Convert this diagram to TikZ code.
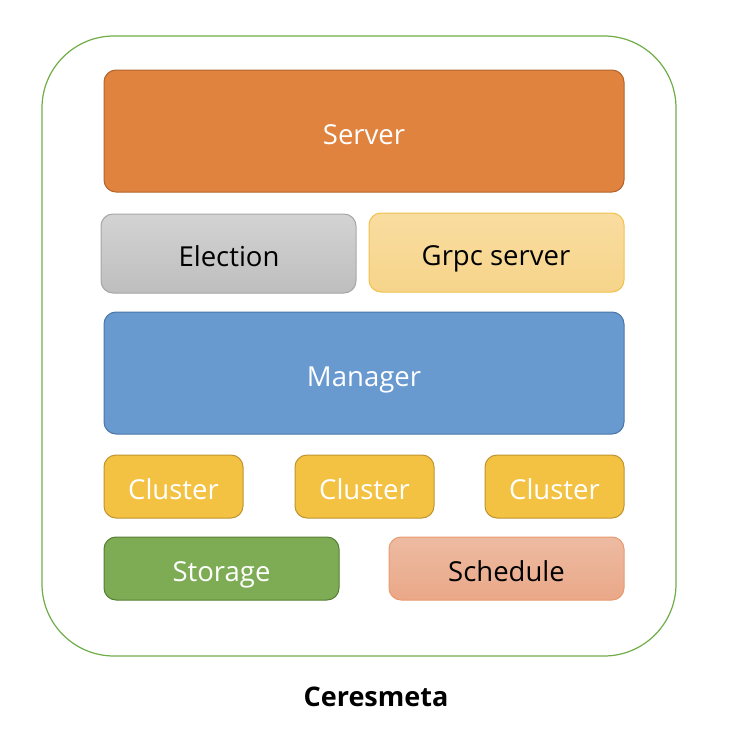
\documentclass[tikz,border=0pt]{standalone}
\usepackage{fontspec}
\setmainfont{Open Sans}
\definecolor{outerG}{HTML}{70AD47}
\definecolor{serverF}{HTML}{E0833F}
\definecolor{serverD}{HTML}{B5652C}
\definecolor{elecT}{HTML}{D3D3D3}
\definecolor{elecB}{HTML}{BEBEBE}
\definecolor{elecD}{HTML}{A6A6A6}
\definecolor{grpcT}{HTML}{F9DDA0}
\definecolor{grpcB}{HTML}{F6D48A}
\definecolor{grpcD}{HTML}{F2C24E}
\definecolor{manF}{HTML}{6899CF}
\definecolor{manD}{HTML}{4C77A8}
\definecolor{clF}{HTML}{F4C242}
\definecolor{clD}{HTML}{BF9530}
\definecolor{stF}{HTML}{7EAC55}
\definecolor{stD}{HTML}{557F35}
\definecolor{scT}{HTML}{EDBBA2}
\definecolor{scB}{HTML}{EAA888}
\definecolor{scD}{HTML}{E99A6E}
\tikzset{
  blk/.style={rounded corners=12pt, line width=1pt},
  lbl/.style={font=\fontsize{27.5}{33}\selectfont, anchor=base, inner sep=0pt}
}
\begin{document}
\begin{tikzpicture}[x=1pt,y=-1pt]
\useasboundingbox (0,0) rectangle (756,736);
\fill[white] (0,0) rectangle (756,736);
\draw[outerG, line width=1.2pt, rounded corners=72pt] (42,36) rectangle (676,656);
% Server
\draw[blk, fill=serverF, draw=serverD] (104,70) rectangle (624,192);
\node[lbl, text=white] (server) at (364,144) {Server};
% Election
\draw[blk, top color=elecT, bottom color=elecB, draw=elecD] (101,214) rectangle (356,293);
\node[lbl] (election) at (229,266) {Election};
% Grpc
\draw[blk, top color=grpcT, bottom color=grpcB, draw=grpcD] (369,213) rectangle (624,292);
\node[lbl] (grpc) at (496,265) {Grpc server};
% Manager
\draw[blk, fill=manF, draw=manD] (104,312) rectangle (624,434);
\node[lbl, text=white] (manager) at (364,386) {Manager};
% Clusters
\draw[blk, fill=clF, draw=clD] (104,455) rectangle (243,518);
\node[lbl, text=white] (c1) at (173.5,499) {Cluster};
\draw[blk, fill=clF, draw=clD] (295,455) rectangle (434,518);
\node[lbl, text=white] (c2) at (364.5,499) {Cluster};
\draw[blk, fill=clF, draw=clD] (485,455) rectangle (624,518);
\node[lbl, text=white] (c3) at (554.5,499) {Cluster};
% Storage
\draw[blk, fill=stF, draw=stD] (104,537) rectangle (339,600);
\node[lbl, text=white] (storage) at (221.5,581) {Storage};
% Schedule
\draw[blk, top color=scT, bottom color=scB, draw=scD] (389,537) rectangle (624,600);
\node[lbl] (schedule) at (506.5,581) {Schedule};
% Title
\node[font=\bfseries\fontsize{27}{32}\selectfont, anchor=base, inner sep=0pt] (title) at (376,706) {Ceresmeta};
\end{tikzpicture}
\end{document}
